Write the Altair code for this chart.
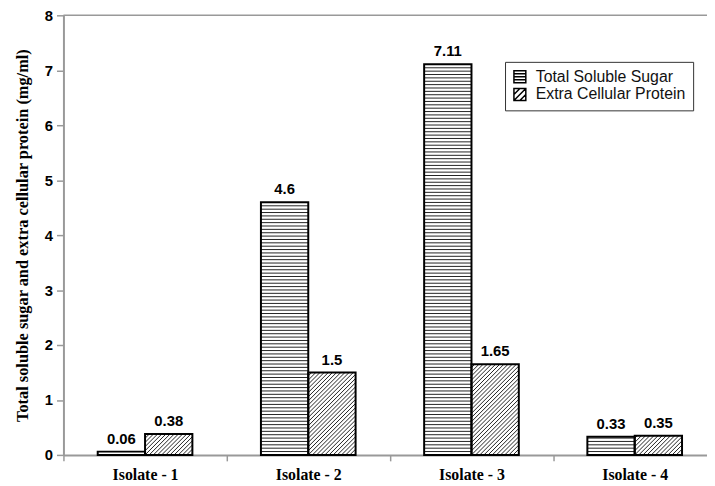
import json
import math
import altair as alt
import pandas as pd

# ---- data ----
isolates = ["Isolate - 1", "Isolate - 2", "Isolate - 3", "Isolate - 4"]
series_names = ["Total Soluble Sugar", "Extra Cellular Protein"]
sugar = [0.06, 4.6, 7.11, 0.33]
protein = [0.38, 1.5, 1.65, 0.35]
sugar_labels = ["0.06", "4.6", "7.11", "0.33"]
protein_labels = ["0.38", "1.5", "1.65", "0.35"]
y_ticks = [0, 1, 2, 3, 4, 5, 6, 7, 8]

# ---- layout / style ----
W_PLOT, H_PLOT = 650, 444
X_DOMAIN = [0.5, 4.443]
Y_DOMAIN = [0, 8]
BAR_W = 0.29
sx = W_PLOT / (X_DOMAIN[1] - X_DOMAIN[0])
sy = H_PLOT / (Y_DOMAIN[1] - Y_DOMAIN[0])
H_PITCH = 3.4   # px, horizontal stripes
D_PITCH = 4.2   # px, diagonal hatch

rows = []
for i, name in enumerate(isolates):
    pos = i + 1
    for s, (vals, labs) in enumerate([(sugar, sugar_labels), (protein, protein_labels)]):
        x0 = pos - BAR_W + s * BAR_W
        rows.append(dict(isolate=name, series=series_names[s], x0=x0, x1=x0 + BAR_W,
                         xc=x0 + BAR_W / 2, value=vals[i], base=0.0, label=labs[i]))
bars = pd.DataFrame(rows)

hatch = []
for r in rows:
    Hp = r["value"] * sy
    Wp = BAR_W * sx
    if r["series"] == series_names[0]:
        k = 1
        while k * H_PITCH < Hp - 1.0:
            yv = k * H_PITCH / sy
            hatch.append(dict(x=r["x0"], x2=r["x1"], y=yv, y2=yv))
            k += 1
    else:
        kmin = math.ceil(-Wp / D_PITCH)
        kmax = math.floor(Hp / D_PITCH)
        for k in range(kmin, kmax + 1):
            c = k * D_PITCH
            u0 = max(0.0, -c)
            u1 = min(Wp, Hp - c)
            if u1 - u0 > 0.8:
                hatch.append(dict(x=r["x0"] + u0 / sx, x2=r["x0"] + u1 / sx,
                                  y=(u0 + c) / sy, y2=(u1 + c) / sy))
hatch_df = pd.DataFrame(hatch)

xscale = alt.Scale(domain=X_DOMAIN, nice=False, zero=False)
yscale = alt.Scale(domain=Y_DOMAIN, nice=False)

label_expr = "datum.value % 1 == 0 ? " + json.dumps(isolates) + "[datum.value - 1] : ''"
x_axis = alt.Axis(
    values=[0.5, 1, 1.5, 2, 2.5, 3, 3.5, 4],
    labelExpr=label_expr,
    title="", grid=False,
    tickOpacity={"condition": {"test": "datum.value % 1 == 0", "value": 0}, "value": 1},
    tickSize=6, tickColor="#999999", tickWidth=1.5,
    domainColor="#999999", domainWidth=2,
    labelFont="Liberation Serif", labelFontWeight="bold", labelFontSize=16,
    labelColor="black", labelPadding=6, labelFlush=False, labelOverlap=False,
)
y_axis = alt.Axis(
    values=y_ticks, grid=False,
    title="Total soluble sugar and extra cellular protein (mg/ml)",
    titleFont="Liberation Serif", titleFontWeight="bold", titleFontSize=16.5,
    titleColor="black", titlePadding=14,
    labelFont="Liberation Sans", labelFontWeight="bold", labelFontSize=15,
    labelColor="black", labelPadding=4,
    tickSize=7, tickColor="#999999", tickWidth=1.5,
    domainColor="#999999", domainWidth=2,
)


def X(field):
    return alt.X(field, scale=xscale, axis=x_axis)


def Y(field):
    return alt.Y(field, scale=yscale, axis=y_axis)


base = alt.Chart(bars)

fill_layer = base.mark_rect(fill="white").encode(
    x=X("x0:Q"), x2="x1:Q", y=Y("value:Q"), y2="base:Q",
)

stripe_layer = alt.Chart(hatch_df).mark_rule(color="#222222", strokeWidth=1).encode(
    x=X("x:Q"), x2="x2:Q", y=Y("y:Q"), y2="y2:Q",
)

outline_layer = base.mark_rect(fillOpacity=0, stroke="black", strokeWidth=2).encode(
    x=X("x0:Q"), x2="x1:Q", y=Y("value:Q"), y2="base:Q",
)

text_layer = base.mark_text(
    font="Liberation Sans", fontWeight="bold", fontSize=15, color="black",
    baseline="alphabetic", dy=-8,
).encode(
    x=X("xc:Q"), y=Y("value:Q"), text="label:N",
)

p_sugar = "M-1,-1H1V1H-1Z M-1,-0.5H1 M-1,0H1 M-1,0.5H1"
p_prot = "M-1,-1H1V1H-1Z M-1,0L0,-1 M-1,1L1,-1 M0,1L1,0"

# legend-only layer: no marks drawn, the shape scale has an explicit domain
legend_layer = base.mark_point(
    filled=True, fill="white", stroke="black", strokeWidth=1.5, opacity=1, size=144
).encode(
    x=X("xc:Q"), y=Y("value:Q"),
    shape=alt.Shape(
        "series:N",
        scale=alt.Scale(domain=series_names, range=[p_sugar, p_prot]),
        legend=alt.Legend(
            title=None, orient="none", legendX=446, legendY=47,
            symbolSize=144, symbolStrokeWidth=1.5,
            labelFont="Liberation Sans", labelFontSize=16, labelColor="#111111",
            labelOffset=8, rowPadding=0, padding=7,
            strokeColor="#333333", fillColor="white",
        ),
    ),
).transform_filter("false")

top_layer = alt.Chart(pd.DataFrame({"a": [0]})).mark_rule(color="#999999", strokeWidth=1.5).encode(
    x=alt.X(datum=X_DOMAIN[0], scale=xscale, axis=x_axis),
    x2=alt.datum(X_DOMAIN[1]),
    y=alt.Y(datum=Y_DOMAIN[1], scale=yscale, axis=y_axis),
)

chart = alt.layer(
    fill_layer, stripe_layer, outline_layer, text_layer, legend_layer, top_layer
).properties(
    width=W_PLOT, height=H_PLOT,
    autosize=alt.AutoSizeParams(type="none"),
    padding={"left": 56, "top": 5, "right": 0, "bottom": 28},
    background="white",
).configure_view(strokeWidth=0)

chart.save("out.html", embed_options={"renderer": "svg", "actions": False})
